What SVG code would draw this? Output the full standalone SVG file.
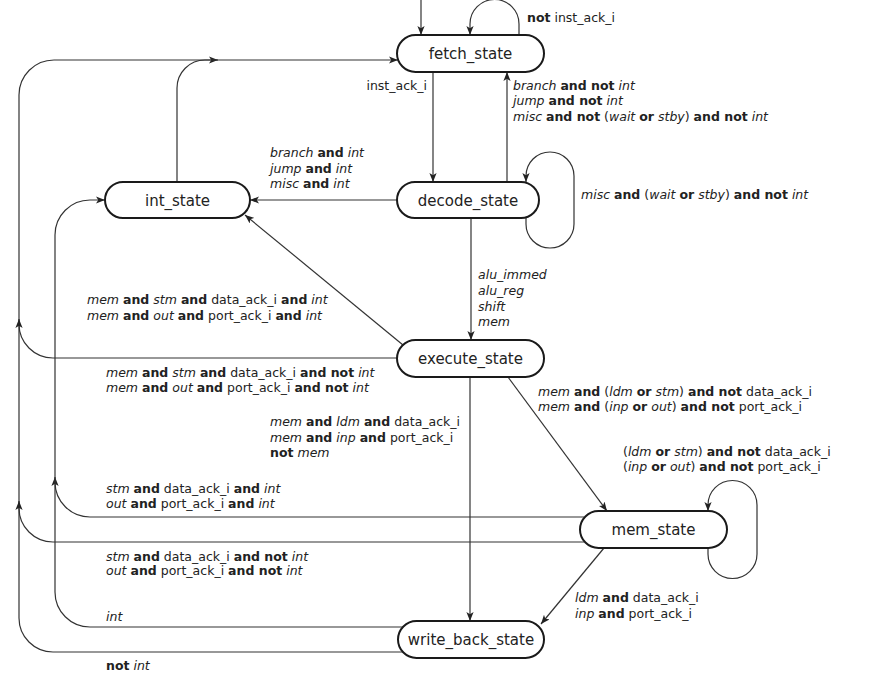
<svg xmlns="http://www.w3.org/2000/svg" width="886" height="692" viewBox="0 0 886 692">
<defs>
<style>
.node rect{fill:#fff;stroke:#1a1a1a;stroke-width:2}
.node text{font-family:"DejaVu Sans",sans-serif;font-size:15px;fill:#222;text-anchor:middle}
#connectors path{fill:none;stroke:#333;stroke-width:1.2}
.lbl{font-family:"DejaVu Sans",sans-serif;font-size:12.5px;fill:#222}
.i{font-style:italic}
.b{font-weight:bold}
</style>
<marker id="ah" viewBox="0 0 10 8" refX="10" refY="4" markerWidth="9" markerHeight="7.2" markerUnits="userSpaceOnUse" orient="auto">
<path d="M0,0 L10,4 L0,8 L2.5,4 Z" fill="#222"/>
</marker>
</defs>
<rect width="886" height="692" fill="#fff"/>
<g id="connectors">
<path d="M421,0 L421,35" marker-end="url(#ah)"/>
<path d="M519,35 L519,24 A24.5,24.5 0 0 0 470,24 L470,35" marker-end="url(#ah)"/>
<path d="M433,72 L433,182" marker-end="url(#ah)"/>
<path d="M507,182 L507,72" marker-end="url(#ah)"/>
<path d="M526,218 L526,224 A24,24 0 0 0 574,224 L574,176 A24,24 0 0 0 526,176 L526,182" marker-end="url(#ah)"/>
<path d="M397,200 L250,200" marker-end="url(#ah)"/>
<path d="M177,182 L177,88 A28,28 0 0 1 205,60 L218,60" marker-end="url(#ah)"/>
<path d="M403,652 L53,652 A34,34 0 0 1 19,618 L19,95 A35,35 0 0 1 54,60 L398,60" marker-end="url(#ah)"/>
<path d="M397,358 L53,358 A34,34 0 0 1 19,324 L19,319" marker-end="url(#ah)"/>
<path d="M584,542 L53,542 A34,34 0 0 1 19,508 L19,501" marker-end="url(#ah)"/>
<path d="M584,517 L90,517 A35,35 0 0 1 55,482 L55,477" marker-end="url(#ah)"/>
<path d="M403,627 L90,627 A35,35 0 0 1 55,592 L55,235 A35,35 0 0 1 90,200 L105,200" marker-end="url(#ah)"/>
<path d="M403,345 L245,215" marker-end="url(#ah)"/>
<path d="M471,218 L471,340" marker-end="url(#ah)"/>
<path d="M470,377 L470,621" marker-end="url(#ah)"/>
<path d="M508,377 L607,511" marker-end="url(#ah)"/>
<path d="M708,548 L708,554 A24.5,24.5 0 0 0 757,554 L757,505 A24.5,24.5 0 0 0 708,505 L708,511" marker-end="url(#ah)"/>
<path d="M604,548 L541,624" marker-end="url(#ah)"/>
</g>
<g id="fetch_state" class="node"><rect x="397" y="35" width="147" height="37" rx="18.5"/><text x="470.5" y="59">fetch_state</text></g>
<g id="decode_state" class="node"><rect x="397" y="182" width="142" height="36" rx="18"/><text x="468" y="206">decode_state</text></g>
<g id="int_state" class="node"><rect x="105" y="182" width="145" height="36" rx="18"/><text x="177.5" y="206">int_state</text></g>
<g id="execute_state" class="node"><rect x="397" y="340" width="147" height="37" rx="18.5"/><text x="470.5" y="364">execute_state</text></g>
<g id="mem_state" class="node"><rect x="580" y="511" width="147" height="37" rx="18.5"/><text x="653.5" y="535">mem_state</text></g>
<g id="write_back_state" class="node"><rect x="398" y="621" width="146" height="37" rx="18.5"/><text x="471" y="645">write_back_state</text></g>
<g id="labels">
<text class="lbl" x="527" y="22"><tspan class="b">not</tspan> inst_ack_i</text>
<text class="lbl" x="427" y="90" text-anchor="end">inst_ack_i</text>
<text class="lbl" x="513" y="90"><tspan class="i">branch</tspan> <tspan class="b">and not</tspan> <tspan class="i">int</tspan></text>
<text class="lbl" x="513" y="105"><tspan class="i">jump</tspan> <tspan class="b">and not</tspan> <tspan class="i">int</tspan></text>
<text class="lbl" x="513" y="121"><tspan class="i">misc</tspan> <tspan class="b">and not</tspan> (<tspan class="i">wait</tspan> <tspan class="b">or</tspan> <tspan class="i">stby</tspan>) <tspan class="b">and not</tspan> <tspan class="i">int</tspan></text>
<text class="lbl" x="270" y="157"><tspan class="i">branch</tspan> <tspan class="b">and</tspan> <tspan class="i">int</tspan></text>
<text class="lbl" x="270" y="173"><tspan class="i">jump</tspan> <tspan class="b">and</tspan> <tspan class="i">int</tspan></text>
<text class="lbl" x="270" y="188"><tspan class="i">misc</tspan> <tspan class="b">and</tspan> <tspan class="i">int</tspan></text>
<text class="lbl" x="581" y="199"><tspan class="i">misc</tspan> <tspan class="b">and</tspan> (<tspan class="i">wait</tspan> <tspan class="b">or</tspan> <tspan class="i">stby</tspan>) <tspan class="b">and not</tspan> <tspan class="i">int</tspan></text>
<text class="lbl i" x="478" y="279">alu_immed</text>
<text class="lbl i" x="478" y="295">alu_reg</text>
<text class="lbl i" x="478" y="311">shift</text>
<text class="lbl i" x="478" y="326">mem</text>
<text class="lbl" x="87" y="304"><tspan class="i">mem</tspan> <tspan class="b">and</tspan> <tspan class="i">stm</tspan> <tspan class="b">and</tspan> data_ack_i <tspan class="b">and</tspan> <tspan class="i">int</tspan></text>
<text class="lbl" x="87" y="320"><tspan class="i">mem</tspan> <tspan class="b">and</tspan> <tspan class="i">out</tspan> <tspan class="b">and</tspan> port_ack_i <tspan class="b">and</tspan> <tspan class="i">int</tspan></text>
<text class="lbl" x="106" y="377"><tspan class="i">mem</tspan> <tspan class="b">and</tspan> <tspan class="i">stm</tspan> <tspan class="b">and</tspan> data_ack_i <tspan class="b">and not</tspan> <tspan class="i">int</tspan></text>
<text class="lbl" x="106" y="392"><tspan class="i">mem</tspan> <tspan class="b">and</tspan> <tspan class="i">out</tspan> <tspan class="b">and</tspan> port_ack_i <tspan class="b">and not</tspan> <tspan class="i">int</tspan></text>
<text class="lbl" x="538" y="396"><tspan class="i">mem</tspan> <tspan class="b">and</tspan> (<tspan class="i">ldm</tspan> <tspan class="b">or</tspan> <tspan class="i">stm</tspan>) <tspan class="b">and not</tspan> data_ack_i</text>
<text class="lbl" x="538" y="411"><tspan class="i">mem</tspan> <tspan class="b">and</tspan> (<tspan class="i">inp</tspan> <tspan class="b">or</tspan> <tspan class="i">out</tspan>) <tspan class="b">and not</tspan> port_ack_i</text>
<text class="lbl" x="270" y="426"><tspan class="i">mem</tspan> <tspan class="b">and</tspan> <tspan class="i">ldm</tspan> <tspan class="b">and</tspan> data_ack_i</text>
<text class="lbl" x="270" y="442"><tspan class="i">mem</tspan> <tspan class="b">and</tspan> <tspan class="i">inp</tspan> <tspan class="b">and</tspan> port_ack_i</text>
<text class="lbl" x="270" y="457"><tspan class="b">not</tspan> <tspan class="i">mem</tspan></text>
<text class="lbl" x="623" y="456">(<tspan class="i">ldm</tspan> <tspan class="b">or</tspan> <tspan class="i">stm</tspan>) <tspan class="b">and not</tspan> data_ack_i</text>
<text class="lbl" x="623" y="471">(<tspan class="i">inp</tspan> <tspan class="b">or</tspan> <tspan class="i">out</tspan>) <tspan class="b">and not</tspan> port_ack_i</text>
<text class="lbl" x="106" y="493"><tspan class="i">stm</tspan> <tspan class="b">and</tspan> data_ack_i <tspan class="b">and</tspan> <tspan class="i">int</tspan></text>
<text class="lbl" x="106" y="508"><tspan class="i">out</tspan> <tspan class="b">and</tspan> port_ack_i <tspan class="b">and</tspan> <tspan class="i">int</tspan></text>
<text class="lbl" x="106" y="561"><tspan class="i">stm</tspan> <tspan class="b">and</tspan> data_ack_i <tspan class="b">and not</tspan> <tspan class="i">int</tspan></text>
<text class="lbl" x="106" y="575"><tspan class="i">out</tspan> <tspan class="b">and</tspan> port_ack_i <tspan class="b">and not</tspan> <tspan class="i">int</tspan></text>
<text class="lbl i" x="106" y="621">int</text>
<text class="lbl" x="106" y="670"><tspan class="b">not</tspan> <tspan class="i">int</tspan></text>
<text class="lbl" x="575" y="602"><tspan class="i">ldm</tspan> <tspan class="b">and</tspan> data_ack_i</text>
<text class="lbl" x="575" y="618"><tspan class="i">inp</tspan> <tspan class="b">and</tspan> port_ack_i</text>
</g>
</svg>
